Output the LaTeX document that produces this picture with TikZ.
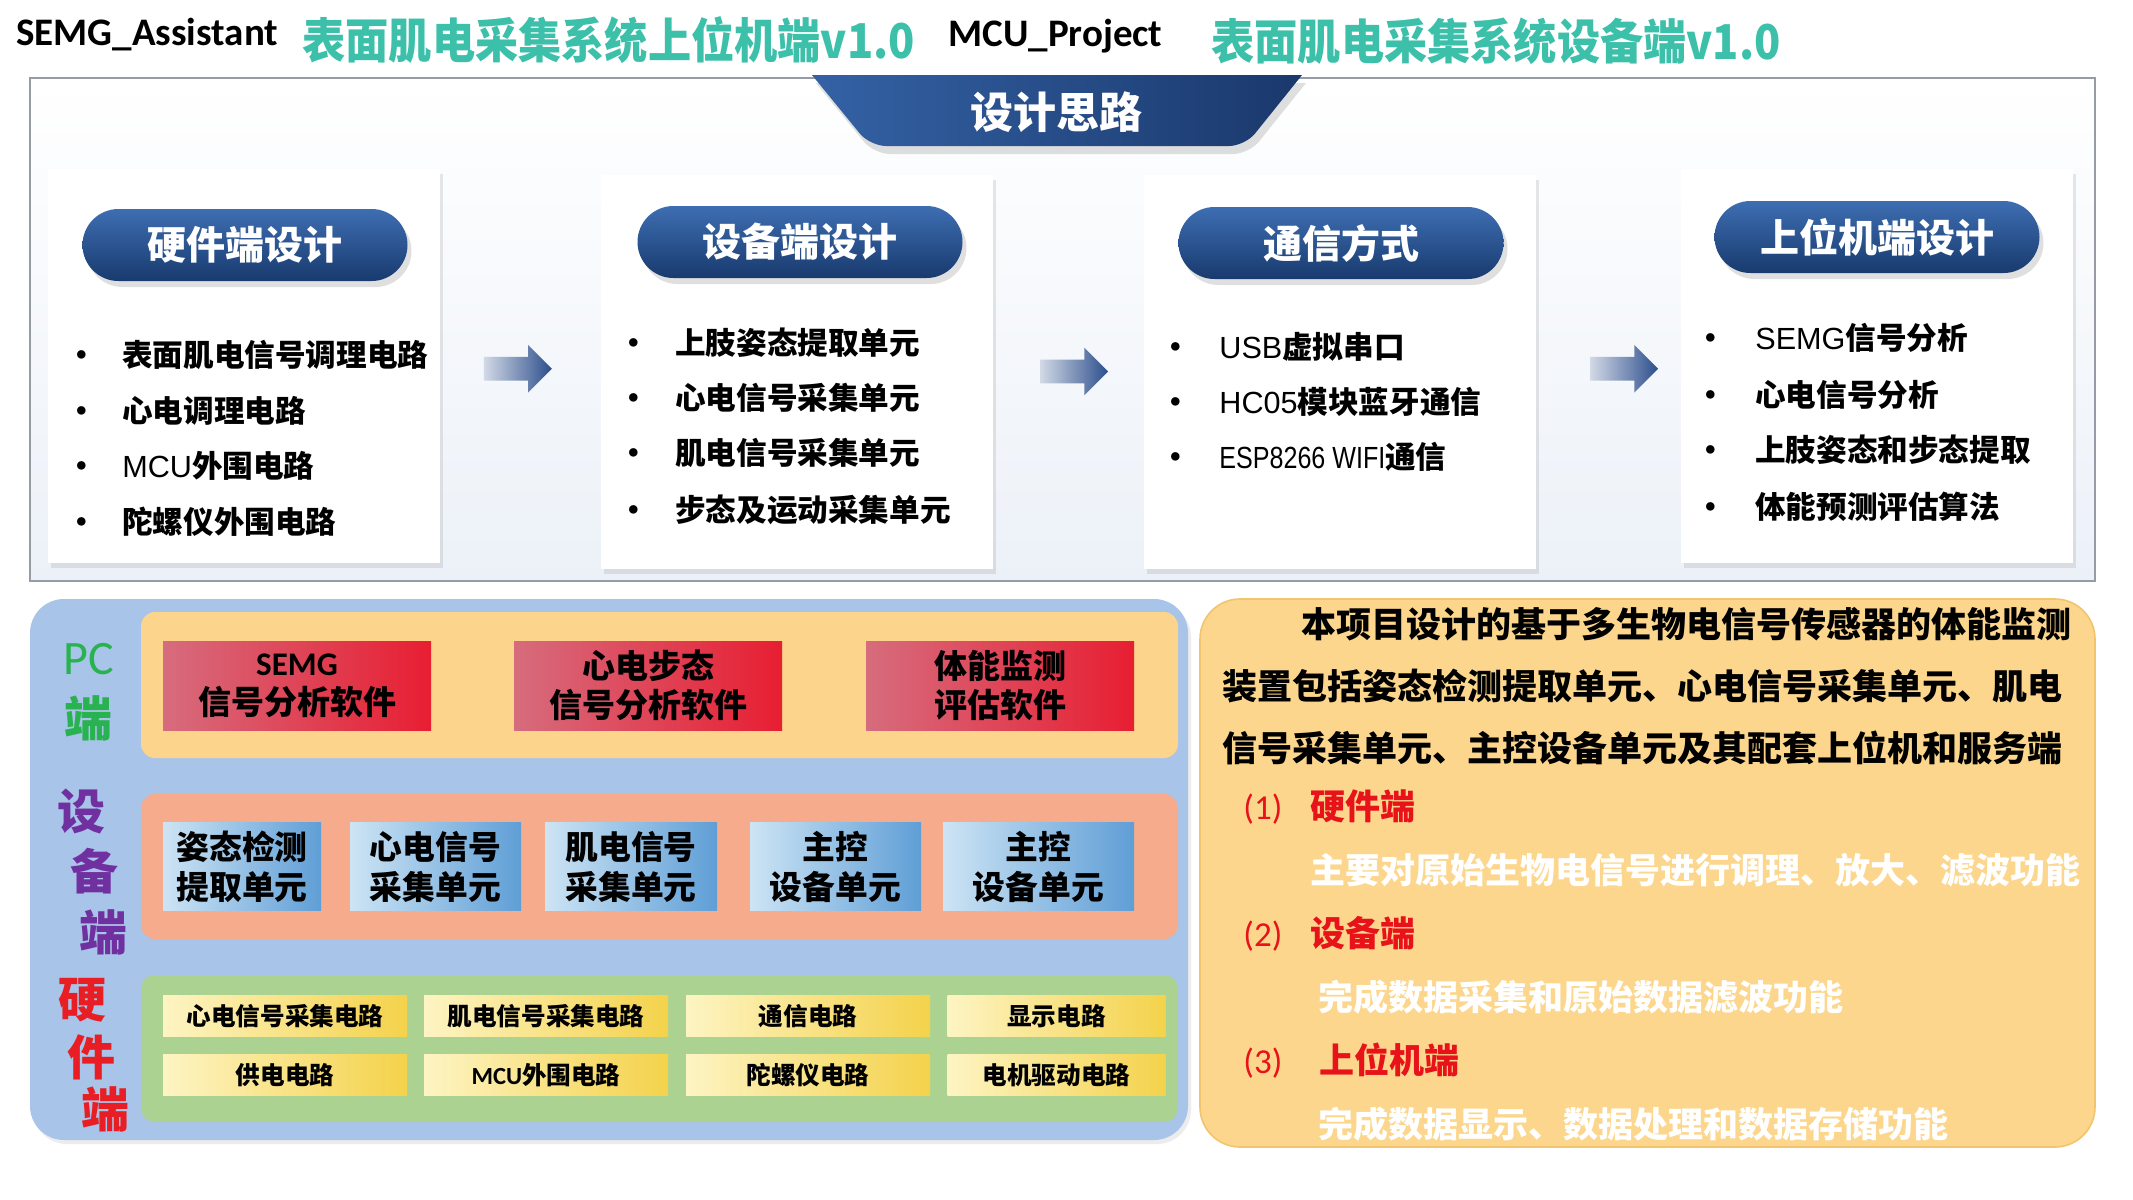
\documentclass[tikz,border=0pt]{standalone}
\usepackage{fontspec}
\setmainfont{Liberation Sans}
\newfontfamily\cjk{Noto Sans CJK SC}
\newfontfamily\calf{Carlito}
\newfontfamily\narrowf{Liberation Sans}[FakeStretch=0.82]
\usetikzlibrary{shadows,shapes.arrows,calc}
\newcommand\myfs[2]{\fontsize{#1}{#2}\selectfont}
\definecolor{teal}{RGB}{60,192,170}
\definecolor{pilltop}{RGB}{62,110,178}
\definecolor{pillbot}{RGB}{24,58,110}
\definecolor{arrowL}{RGB}{210,217,230}
\definecolor{arrowR}{RGB}{44,78,140}
\definecolor{panelblue}{RGB}{168,196,232}
\definecolor{bandY}{RGB}{252,212,140}
\definecolor{redL}{RGB}{214,108,125}
\definecolor{redR}{RGB}{232,30,50}
\definecolor{bandS}{RGB}{246,172,140}
\definecolor{blueL}{RGB}{205,228,244}
\definecolor{blueR}{RGB}{95,158,214}
\definecolor{bandG}{RGB}{172,210,146}
\definecolor{ylwL}{RGB}{253,244,195}
\definecolor{ylwR}{RGB}{244,210,75}
\definecolor{orangeP}{RGB}{252,214,140}
\definecolor{redtxt}{RGB}{232,18,26}
\definecolor{pcgreen}{RGB}{40,178,80}
\definecolor{purp}{RGB}{112,48,160}
\definecolor{hwred}{RGB}{232,30,36}
\begin{document}
\begin{tikzpicture}[x=0.5pt,y=-0.5pt,
  hdr/.style={anchor=base west,inner sep=0pt,font=\calf\bfseries\myfs{19.5}{22}},
  ttl/.style={anchor=west,inner sep=0pt,text=teal,font=\cjk\bfseries\myfs{24}{28}},
  card/.style={fill=white,minimum width=196pt,minimum height=197pt,inner sep=0pt,
     drop shadow={opacity=0.18,shadow xshift=1.5pt,shadow yshift=-2.5pt}},
  pill/.style={rounded corners=18pt,top color=pilltop,bottom color=pillbot,
     minimum width=162.5pt,minimum height=36pt,text=white,font=\cjk\bfseries\myfs{19.5}{22},
     drop shadow={opacity=0.25,shadow xshift=2pt,shadow yshift=-3pt}},
  item/.style={anchor=west,inner sep=0pt,font=\cjk\bfseries\myfs{15.3}{18}},
  blkarrow/.style={single arrow,single arrow head extend=6pt,single arrow head indent=0pt,
     minimum height=34pt,minimum width=23.5pt,inner sep=5.75pt,left color=arrowL,right color=arrowR},
  band/.style={rounded corners=7pt,minimum width=518.5pt,inner sep=0pt},
  redbox/.style={left color=redL,right color=redR,minimum width=134pt,minimum height=44.5pt,
     inner sep=0pt,align=center,font=\cjk\bfseries\myfs{16.5}{19.5}},
  bluebox/.style={left color=blueL,right color=blueR,minimum height=44pt,
     inner sep=0pt,align=center,font=\cjk\bfseries\myfs{16.4}{20}},
  ylwbox/.style={left color=ylwL,right color=ylwR,minimum height=20.5pt,
     inner sep=0pt,font=\cjk\bfseries\myfs{12.3}{14}},
  side/.style={inner sep=0pt,font=\cjk\bfseries\myfs{24}{26}},
  para/.style={anchor=west,inner sep=0pt,font=\cjk\bfseries\myfs{17.5}{20}},
  head/.style={para,text=redtxt},
  wtxt/.style={para,text=white}
]
\useasboundingbox (0,0) rectangle (2133,1200);
\fill[white] (0,0) rectangle (2133,1200);

% ---------- header ----------
\node[hdr] (semg) at (16,45) {SEMG\_Assistant};
\node[ttl] (t1) at (302,40) {\scalebox{0.9}[1]{表面肌电采集系统上位机端v1.0}};
\node[hdr] (mcu) at (948,46) {MCU\_Project};
\node[ttl] (t2) at (1211,41) {\scalebox{0.9}[1]{表面肌电采集系统设备端v1.0}};

% ---------- top panel ----------
\node[draw={rgb,255:red,150;green,155;blue,165},line width=1.1pt,top color=white,
  bottom color={rgb,255:red,236;green,241;blue,248},minimum width=1032.5pt,minimum height=251.5pt,
  inner sep=0pt] (top) at (1062.5,329.5) {};
\path[drop shadow={opacity=0.25,shadow xshift=2pt,shadow yshift=-4pt},
  left color={rgb,255:red,52;green,98;blue,165},right color={rgb,255:red,26;green,56;blue,108}]
  (812,75) -- (1302,75) [rounded corners=8pt] -- (1245,146) -- (870,146) [sharp corners] -- cycle;
\node[text=white,font=\cjk\bfseries\myfs{21.5}{24}] (idea) at (1056,112) {设计思路};

\node[card] (c1) at (243.5,366) {};
\node[card] (c2) at (796.5,371.5) {};
\node[card] (c3) at (1340,371.5) {};
\node[card] (c4) at (1876.5,366) {};

\node[pill] (p1) at (245,245) {硬件端设计};
\node[pill] (p2) at (800,242) {设备端设计};
\node[pill] (p3) at (1341,243) {通信方式};
\node[pill] (p4) at (1877,237) {上位机端设计};

\node[item] (a1) at (66,355) {\makebox[28pt][l]{\textbullet}表面肌电信号调理电路};
\node[item] (a2) at (66,411) {\makebox[28pt][l]{\textbullet}心电调理电路};
\node[item] (a3) at (66,466) {\makebox[28pt][l]{\textbullet}{\mdseries\fontspec{Liberation Sans}MCU}外围电路};
\node[item] (a4) at (66,522) {\makebox[28pt][l]{\textbullet}陀螺仪外围电路};

\node[item] (b1) at (618,343) {\makebox[28.5pt][l]{\textbullet}上肢姿态提取单元};
\node[item] (b2) at (618,398) {\makebox[28.5pt][l]{\textbullet}心电信号采集单元};
\node[item] (b3) at (618,453) {\makebox[28.5pt][l]{\textbullet}肌电信号采集单元};
\node[item] (b4) at (618,510) {\makebox[28.5pt][l]{\textbullet}步态及运动采集单元};

\node[item] (d1) at (1160,347) {\makebox[29.5pt][l]{\textbullet}{\mdseries\fontspec{Liberation Sans}USB}虚拟串口};
\node[item] (d2) at (1160,402) {\makebox[29.5pt][l]{\textbullet}{\mdseries\fontspec{Liberation Sans}HC05}模块蓝牙通信};
\node[item] (d3) at (1160,457) {\makebox[29.5pt][l]{\textbullet}{\mdseries\narrowf ESP8266 WIFI}通信};

\node[item] (e1) at (1695,338) {\makebox[30pt][l]{\textbullet}{\mdseries\fontspec{Liberation Sans}SEMG}信号分析};
\node[item] (e2) at (1695,395) {\makebox[30pt][l]{\textbullet}心电信号分析};
\node[item] (e3) at (1695,450) {\makebox[30pt][l]{\textbullet}上肢姿态和步态提取};
\node[item] (e4) at (1695,507) {\makebox[30pt][l]{\textbullet}体能预测评估算法};

\node[blkarrow,xshift=-4pt] (ar1) at ($(c1.east)!0.5!(c2.west)$) {};
\node[blkarrow] (ar2) at ($(c2.east)!0.5!(c3.west)$) {};
\node[blkarrow,xshift=5pt] (ar3) at ($(c3.east)!0.5!(c4.west)$) {};

% ---------- bottom left ----------
\node[fill=panelblue,rounded corners=17pt,minimum width=579pt,minimum height=270.5pt,inner sep=0pt,
  drop shadow={opacity=0.15,shadow xshift=1.5pt,shadow yshift=-2pt}] (bl) at (609,869.5) {};
\node[band,fill=bandY,minimum height=73pt] (r1) at (659.5,685) {};
\node[band,fill=bandS,minimum height=72.5pt] (r2) at (659.5,866.5) {};
\node[band,fill=bandG,minimum height=73.5pt] (r3) at (659.5,1048.5) {};

\node[redbox] (s1) at (297,685.5) {{\calf SEMG}\\信号分析软件};
\node[redbox] (s2) at (648,685.5) {心电步态\\信号分析软件};
\node[redbox] (s3) at (1000,685.5) {体能监测\\评估软件};

\node[bluebox,minimum width=79pt] (u1) at (242,866.5) {姿态检测\\提取单元};
\node[bluebox,minimum width=85.5pt] (u2) at (435.5,866.5) {心电信号\\采集单元};
\node[bluebox,minimum width=86pt] (u3) at (631,866.5) {肌电信号\\采集单元};
\node[bluebox,minimum width=85.5pt] (u4) at (835.5,866.5) {主控\\设备单元};
\node[bluebox,minimum width=95.5pt] (u5) at (1038.5,866.5) {主控\\设备单元};

\node[ylwbox,minimum width=122pt] (h1) at (285,1016) {心电信号采集电路};
\node[ylwbox,minimum width=122pt] (h2) at (546,1016) {肌电信号采集电路};
\node[ylwbox,minimum width=122pt] (h3) at (808,1016) {通信电路};
\node[ylwbox,minimum width=109pt] (h4) at (1056.5,1016) {显示电路};
\node[ylwbox,minimum width=122pt] (h5) at (285,1075) {供电电路};
\node[ylwbox,minimum width=122pt] (h6) at (546,1075) {{\calf MCU}外围电路};
\node[ylwbox,minimum width=122pt] (h7) at (808,1075) {陀螺仪电路};
\node[ylwbox,minimum width=109pt] (h8) at (1056.5,1075) {电机驱动电路};

\node[side,text=pcgreen,font=\calf\myfs{24}{26}] (lpc) at (89,659) {PC};
\node[side,text=pcgreen] (lpc2) at (88,718) {端};
\node[side,text=purp] (ld1) at (81,811) {设};
\node[side,text=purp] (ld2) at (94,871) {备};
\node[side,text=purp] (ld3) at (103,932) {端};
\node[side,text=hwred] (lh1) at (82,1000) {硬};
\node[side,text=hwred] (lh2) at (91,1057) {件};
\node[side,text=hwred] (lh3) at (105,1109) {端};

% ---------- bottom right ----------
\node[fill=orangeP,draw={rgb,255:red,242;green,196;blue,110},line width=0.8pt,rounded corners=20pt,
  minimum width=447.5pt,minimum height=274pt,inner sep=0pt] (br) at (1647.5,873) {};
\node[para] (l1) at (1301,624) {本项目设计的基于多生物电信号传感器的体能监测};
\node[para] (l2) at (1222,686) {装置包括姿态检测提取单元、心电信号采集单元、肌电};
\node[para] (l3) at (1222,748) {信号采集单元、主控设备单元及其配套上位机和服务端};
\node[head] (k1) at (1243,807) {\makebox[33.5pt][l]{\mdseries\calf (1)}硬件端};
\node[wtxt] (w1) at (1310,870) {主要对原始生物电信号进行调理、放大、滤波功能};
\node[head] (k2) at (1243,934) {\makebox[33.5pt][l]{\mdseries\calf (2)}设备端};
\node[wtxt] (w2) at (1318,997) {完成数据采集和原始数据滤波功能};
\node[head] (k3) at (1243,1061) {\makebox[38pt][l]{\mdseries\calf (3)}上位机端};
\node[wtxt] (w3) at (1318,1124) {完成数据显示、数据处理和数据存储功能};
\end{tikzpicture}
\end{document}
